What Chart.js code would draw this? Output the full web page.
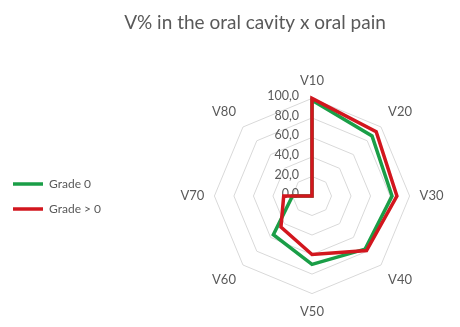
<!DOCTYPE html>
<html>
<head>
<meta charset="utf-8">
<script src="https://cdn.jsdelivr.net/npm/chart.js@4"></script>
<style>
  html, body { margin: 0; padding: 0; background: #fff; }
</style>
</head>
<body>
<canvas id="oral-pain-chart" width="460" height="327"></canvas>
<script>
var axisLabels = ["V10", "V20", "V30", "V40", "V50", "V60", "V70", "V80"];
var grade0 = [98, 87, 82, 77, 70, 56, 20, 0];
var gradeAbove0 = [100, 93, 87, 79, 60, 45, 29, 0];
var tickValues = [0, 20, 40, 60, 80, 100];

Chart.defaults.font.family = "Lato";
Chart.defaults.color = "#595959";

// excel-ish tick labels, left of the vertical axis, "0,0" included
var tickLabelPlugin = {
  id: "tickLabels",
  beforeDatasetsDraw: function (chart) {
    var scale = chart.scales.r;
    var ctx = chart.ctx;
    ctx.save();
    ctx.font = "12.5px Lato";
    ctx.fillStyle = "#595959";
    ctx.textAlign = "right";
    ctx.textBaseline = "middle";
    tickValues.forEach(function (v) {
      var d = scale.getDistanceFromCenterForValue(v);
      ctx.fillText(v.toFixed(1).replace(".", ","), scale.xCenter - 13, scale.yCenter - d - 2);
    });
    ctx.restore();
  },
};

// legend takes a fixed strip on the left, title sits a bit right of centre
var layoutTweaks = {
  id: "layoutTweaks",
  beforeUpdate: function (chart) {
    var legend = chart.legend;
    if (legend && !legend._patched) {
      var fit = legend.fit;
      legend.fit = function () {
        fit.call(this);
        this.width = 164;
      };
      legend._patched = true;
    }
  },
  afterLayout: function (chart) {
    chart.titleBlock.left = 50;
  },
};

var oralPainChart = new Chart(document.getElementById("oral-pain-chart"), {
  type: "radar",
  data: {
    labels: axisLabels,
    datasets: [
      {
        label: "Grade 0",
        data: grade0,
        borderColor: "#1a9e47",
        backgroundColor: "#1a9e47",
        borderWidth: 3.5,
        fill: false,
        pointRadius: 0,
        borderJoinStyle: "miter",
        order: 1,
      },
      {
        label: "Grade > 0",
        data: gradeAbove0,
        borderColor: "#d2161e",
        backgroundColor: "#d2161e",
        borderWidth: 3.5,
        fill: false,
        pointRadius: 0,
        borderJoinStyle: "miter",
        order: 0,
      },
    ],
  },
  options: {
    responsive: false,
    animation: false,
    layout: { padding: { bottom: 7 } },
    scales: {
      r: {
        min: 0,
        max: 100,
        ticks: { display: false, stepSize: 20 },
        grid: { color: "#d9d9d9", lineWidth: 1 },
        angleLines: { display: false },
        pointLabels: {
          color: "#595959",
          padding: 10,
          font: { family: "Lato", size: 13 },
        },
      },
    },
    plugins: {
      title: {
        display: true,
        text: "V% in the oral cavity x oral pain",
        color: "#595959",
        font: { family: "Lato", size: 19, weight: "normal" },
        padding: { top: 11, bottom: 39 },
      },
      legend: {
        position: "left",
        fullSize: false,
        labels: {
          usePointStyle: true,
          pointStyle: "line",
          pointStyleWidth: 30,
          boxWidth: 30,
          padding: 13,
          color: "#595959",
          font: { family: "Lato", size: 12 },
          sort: function (a, b) {
            return a.datasetIndex - b.datasetIndex;
          },
        },
      },
      tooltip: { enabled: false },
    },
  },
  plugins: [tickLabelPlugin, layoutTweaks],
});
</script>
</body>
</html>
